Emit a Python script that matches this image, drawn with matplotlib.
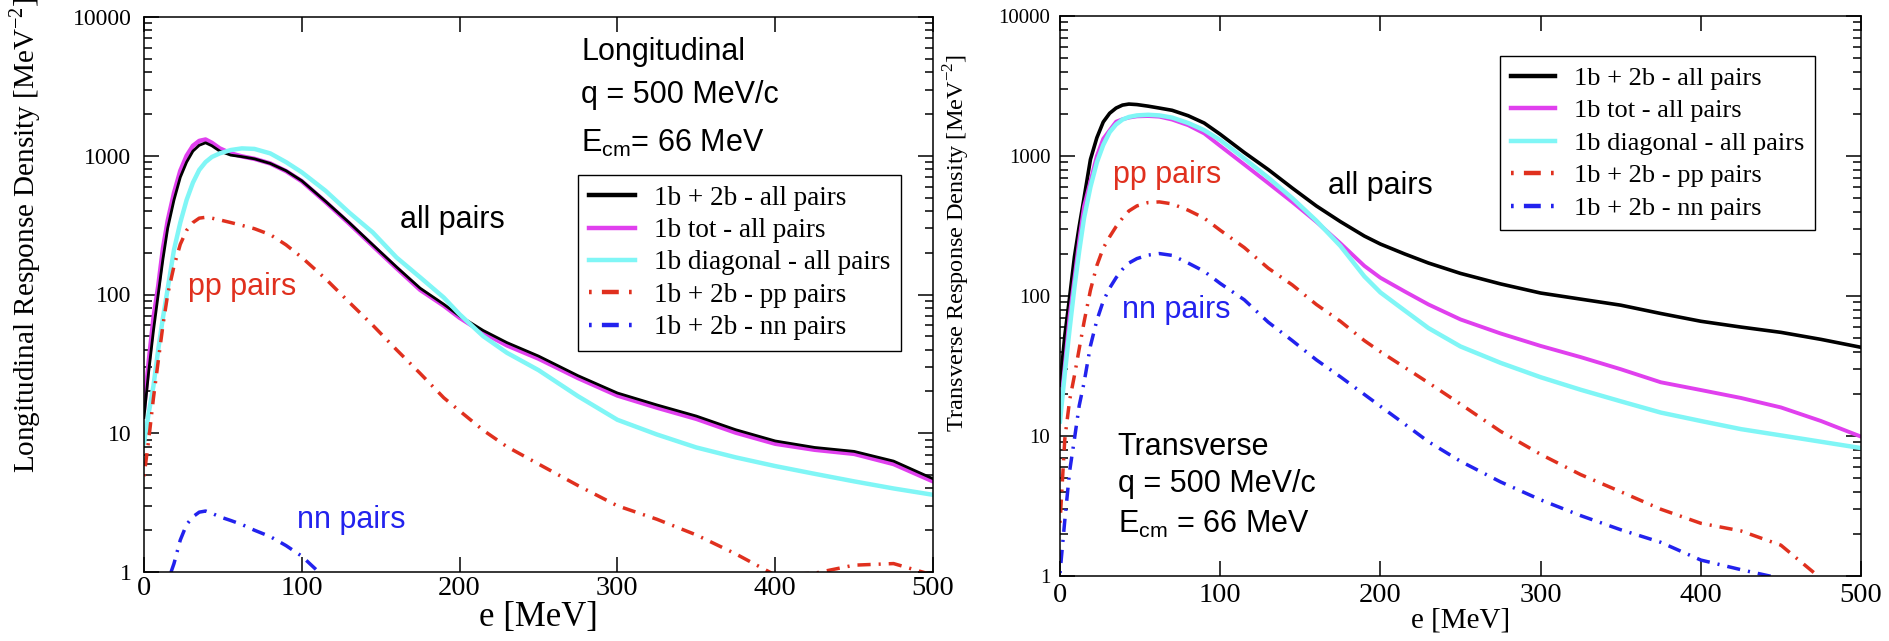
import matplotlib
matplotlib.use("Agg")
import matplotlib.pyplot as plt
import matplotlib.ticker as ticker

plt.rcParams['mathtext.fontset'] = 'custom'
plt.rcParams['mathtext.rm'] = 'Liberation Serif'
plt.rcParams['mathtext.sf'] = 'Liberation Sans'

# energy grid [MeV], shared by the curves of both panels
energy = [0, 3, 6, 9, 12, 15, 19, 23, 27, 31, 35, 39, 43, 48, 55, 62, 70, 80, 90, 100,
          115, 130, 145, 160, 175, 190, 200, 215, 230, 250, 275, 300, 325, 350, 375,
          400, 425, 450, 475, 500]

# longitudinal response density
long_all = [13, 28, 55, 100, 180, 300, 480, 700, 900, 1080, 1190, 1240, 1180, 1080, 1010,
            985, 950, 880, 780, 660, 470, 330, 228, 158, 111, 85, 70, 55, 45, 36, 26,
            19.5, 16, 13.3, 10.6, 8.8, 7.9, 7.4, 6.3, 4.7]
long_1b_tot = [15, 33, 68, 115, 215, 340, 540, 780, 1000, 1180, 1280, 1310, 1240, 1130,
               1040, 990, 950, 880, 775, 655, 465, 325, 224, 155, 108, 83, 68, 53, 43,
               34.5, 25, 18.7, 15.3, 12.7, 10.1, 8.4, 7.6, 7.1, 6.0, 4.5]
long_1b_diag = [8.5, 14, 22, 40, 68, 110, 210, 330, 480, 640, 790, 900, 980, 1040, 1100,
                1130, 1120, 1040, 900, 760, 560, 390, 280, 185, 133, 95, 72, 50, 38,
                28.5, 18.5, 12.5, 9.8, 7.9, 6.7, 5.8, 5.1, 4.5, 4.0, 3.6]
long_pp = [4.9, 9, 18, 33, 60, 100, 160, 230, 290, 330, 355, 360, 355, 345, 330, 315,
           298, 270, 228, 185, 130, 88, 60, 40, 27, 18, 14.5, 10.5, 8, 6, 4.2, 3.0, 2.4,
           1.85, 1.35, 0.95, 0.98, 1.12, 1.15, 0.95]
energy_nn_long = [15, 19, 23, 27, 31, 35, 39, 43, 48, 55, 62, 70, 80, 90, 100, 115]
long_nn = [0.85, 1.15, 1.7, 2.2, 2.5, 2.7, 2.75, 2.65, 2.5, 2.35, 2.2, 2.0, 1.8, 1.55,
           1.3, 0.9]

# transverse response density
trans_all = [23, 52, 98, 190, 315, 500, 945, 1350, 1750, 2020, 2200, 2310, 2350, 2330,
             2270, 2200, 2120, 1940, 1720, 1430, 1060, 800, 590, 440, 340, 268, 235, 200,
             172, 145, 122, 105, 95, 86, 75, 66, 60, 55, 49, 43]
trans_1b_tot = [14.6, 32, 72, 134, 250, 437, 661, 1000, 1327, 1528, 1758, 1830, 1880,
                1920, 1930, 1910, 1820, 1660, 1450, 1180, 870, 640, 469, 339, 238, 164,
                135, 108, 87, 68, 54, 44, 36.6, 30, 24.2, 21.3, 18.7, 16, 12.8, 9.9]
trans_1b_diag = [12.7, 28, 58, 115, 210, 360, 600, 900, 1200, 1480, 1680, 1820, 1900,
                 1950, 1970, 1950, 1880, 1720, 1530, 1300, 960, 700, 500, 345, 228, 138,
                 106, 79, 59, 43.6, 33.3, 26.3, 21.4, 17.7, 14.7, 12.8, 11.2, 10.1, 9.1,
                 8.2]
trans_pp = [2.4, 9.5, 18, 27, 42, 65, 110, 165, 220, 265, 313, 360, 405, 440, 465, 470,
            455, 410, 360, 295, 222, 158, 120, 87, 66, 48, 40, 31, 24, 16.9, 10.8, 7.4,
            5.3, 4.0, 3.0, 2.38, 2.1, 1.66, 0.96, 0.5]
trans_nn = [1.05, 2.5, 5.6, 9.5, 16.5, 24, 44, 67, 92, 114, 135, 155, 172, 185, 196, 201,
            195, 172, 150, 123, 94, 65, 48, 35, 26.5, 19.8, 16.3, 12.2, 9.1, 6.6, 4.7,
            3.5, 2.7, 2.14, 1.74, 1.3, 1.11, 0.96, 0.85, 0.75]

labels = ['1b + 2b - all pairs', '1b tot - all pairs', '1b diagonal - all pairs',
          '1b + 2b - pp pairs', '1b + 2b - nn pairs']

BLACK = 'black'
MAGENTA = '#e040ee'
CYAN = '#80f6f6'
RED = '#e0301e'
BLUE = '#2222ee'
DASHDOT = (0, (0.6, 2.3, 3.8, 2.3))

SANS = 'Liberation Sans'
SERIF = 'Liberation Serif'

fig = plt.figure(figsize=(18.9, 6.41), dpi=100)
axL = fig.add_axes([144 / 1890, 1 - 572 / 641, 789 / 1890, 555 / 641])
axR = fig.add_axes([1060 / 1890, 1 - 576 / 641, 801 / 1890, 560 / 641])


def log_fmt(v, pos):
    return '%d' % round(v)


def style_axes(ax, tick_size, ypad, xpad):
    ax.set_yscale('log')
    ax.set_xlim(0, 500)
    ax.set_ylim(1, 10000)
    ax.xaxis.set_major_locator(ticker.MultipleLocator(100))
    ax.yaxis.set_major_formatter(ticker.FuncFormatter(log_fmt))
    ax.yaxis.set_minor_formatter(ticker.NullFormatter())
    ax.tick_params(which='both', direction='in', top=True, right=True, width=1.1)
    ax.tick_params(which='major', length=11)
    ax.tick_params(which='minor', length=6)
    ax.tick_params(axis='y', labelsize=tick_size, pad=ypad)
    ax.tick_params(axis='x', labelsize=20.5, pad=xpad)
    for lab in ax.get_xticklabels() + ax.get_yticklabels():
        lab.set_family(SERIF)
    for s in ax.spines.values():
        s.set_linewidth(1.1)


def make_legend(ax, handles, names, x_px, y_px, size, spacing):
    leg = ax.legend(handles, names, loc='upper left',
                    bbox_to_anchor=(x_px / 1890, 1 - y_px / 641),
                    bbox_transform=fig.transFigure, borderaxespad=0, fancybox=False,
                    edgecolor='black', framealpha=1, prop={'family': SERIF, 'size': size},
                    handlelength=1.7, handletextpad=0.7, labelspacing=spacing,
                    borderpad=0.4)
    leg.get_frame().set_linewidth(1.0)
    for line in leg.get_lines():
        line.set_linewidth(3.2)
    return leg


# ---- left: longitudinal ----
axL.plot(energy, long_1b_tot, color=MAGENTA, lw=3.2, label=labels[1])
axL.plot(energy, long_all, color=BLACK, lw=2.0, label=labels[0])
axL.plot(energy, long_1b_diag, color=CYAN, lw=3.2, label=labels[2])
axL.plot(energy, long_pp, color=RED, lw=2.5, ls=DASHDOT, label=labels[3])
axL.plot(energy_nn_long, long_nn, color=BLUE, lw=2.5, ls=DASHDOT, label=labels[4])
style_axes(axL, 17, 9, 3)

h, l = axL.get_legend_handles_labels()
order = [1, 0, 2, 3, 4]
make_legend(axL, [h[i] for i in order], [l[i] for i in order], 578, 175, 19.5, 0.27)

axL.text(277, 4900, 'Longitudinal', family=SANS, fontsize=22)
axL.text(277, 2405, 'q = 500 MeV/c', family=SANS, fontsize=22)
axL.text(277, 1069, r'E$_{\mathsf{cm}}$= 66 MeV', family=SANS, fontsize=22)
axL.text(162, 303, 'all pairs', family=SANS, fontsize=22)
axL.text(28, 100, 'pp pairs', family=SANS, fontsize=22, color=RED)
axL.text(97, 2.07, 'nn pairs', family=SANS, fontsize=22, color=BLUE)

axL.set_xlabel('e [MeV]', family=SERIF, fontsize=25, labelpad=0)
axL.set_ylabel(r'Longitudinal Response Density [MeV$^{-2}$]', family=SERIF, fontsize=21)
axL.yaxis.set_label_coords(-0.128, 0.607)

# ---- right: transverse ----
axR.plot(energy, trans_all, color=BLACK, lw=2.6, label=labels[0])
axR.plot(energy, trans_1b_tot, color=MAGENTA, lw=2.8, label=labels[1])
axR.plot(energy, trans_1b_diag, color=CYAN, lw=3.2, label=labels[2])
axR.plot(energy, trans_pp, color=RED, lw=2.5, ls=DASHDOT, label=labels[3])
axR.plot(energy, trans_nn, color=BLUE, lw=2.5, ls=DASHDOT, label=labels[4])
style_axes(axR, 15, 7, 5)

h, l = axR.get_legend_handles_labels()
make_legend(axR, h, l, 1500, 56, 19, 0.34)

axR.text(33, 641, 'pp pairs', family=SANS, fontsize=22, color=RED)
axR.text(167, 535, 'all pairs', family=SANS, fontsize=22)
axR.text(39, 70, 'nn pairs', family=SANS, fontsize=22, color=BLUE)
axR.text(36, 7.3, 'Transverse', family=SANS, fontsize=22)
axR.text(36, 4.0, 'q = 500 MeV/c', family=SANS, fontsize=22)
axR.text(36, 2.03, r'E$_{\mathsf{cm}}$ = 66 MeV', family=SANS, fontsize=22)

axR.set_xlabel('e [MeV]', family=SERIF, fontsize=21, labelpad=0)
axR.set_ylabel(r'Transverse Response Density [MeV$^{-2}$]', family=SERIF, fontsize=17.5)
axR.yaxis.set_label_coords(-0.11, 0.594)

fig.savefig('out.png', dpi=100)
